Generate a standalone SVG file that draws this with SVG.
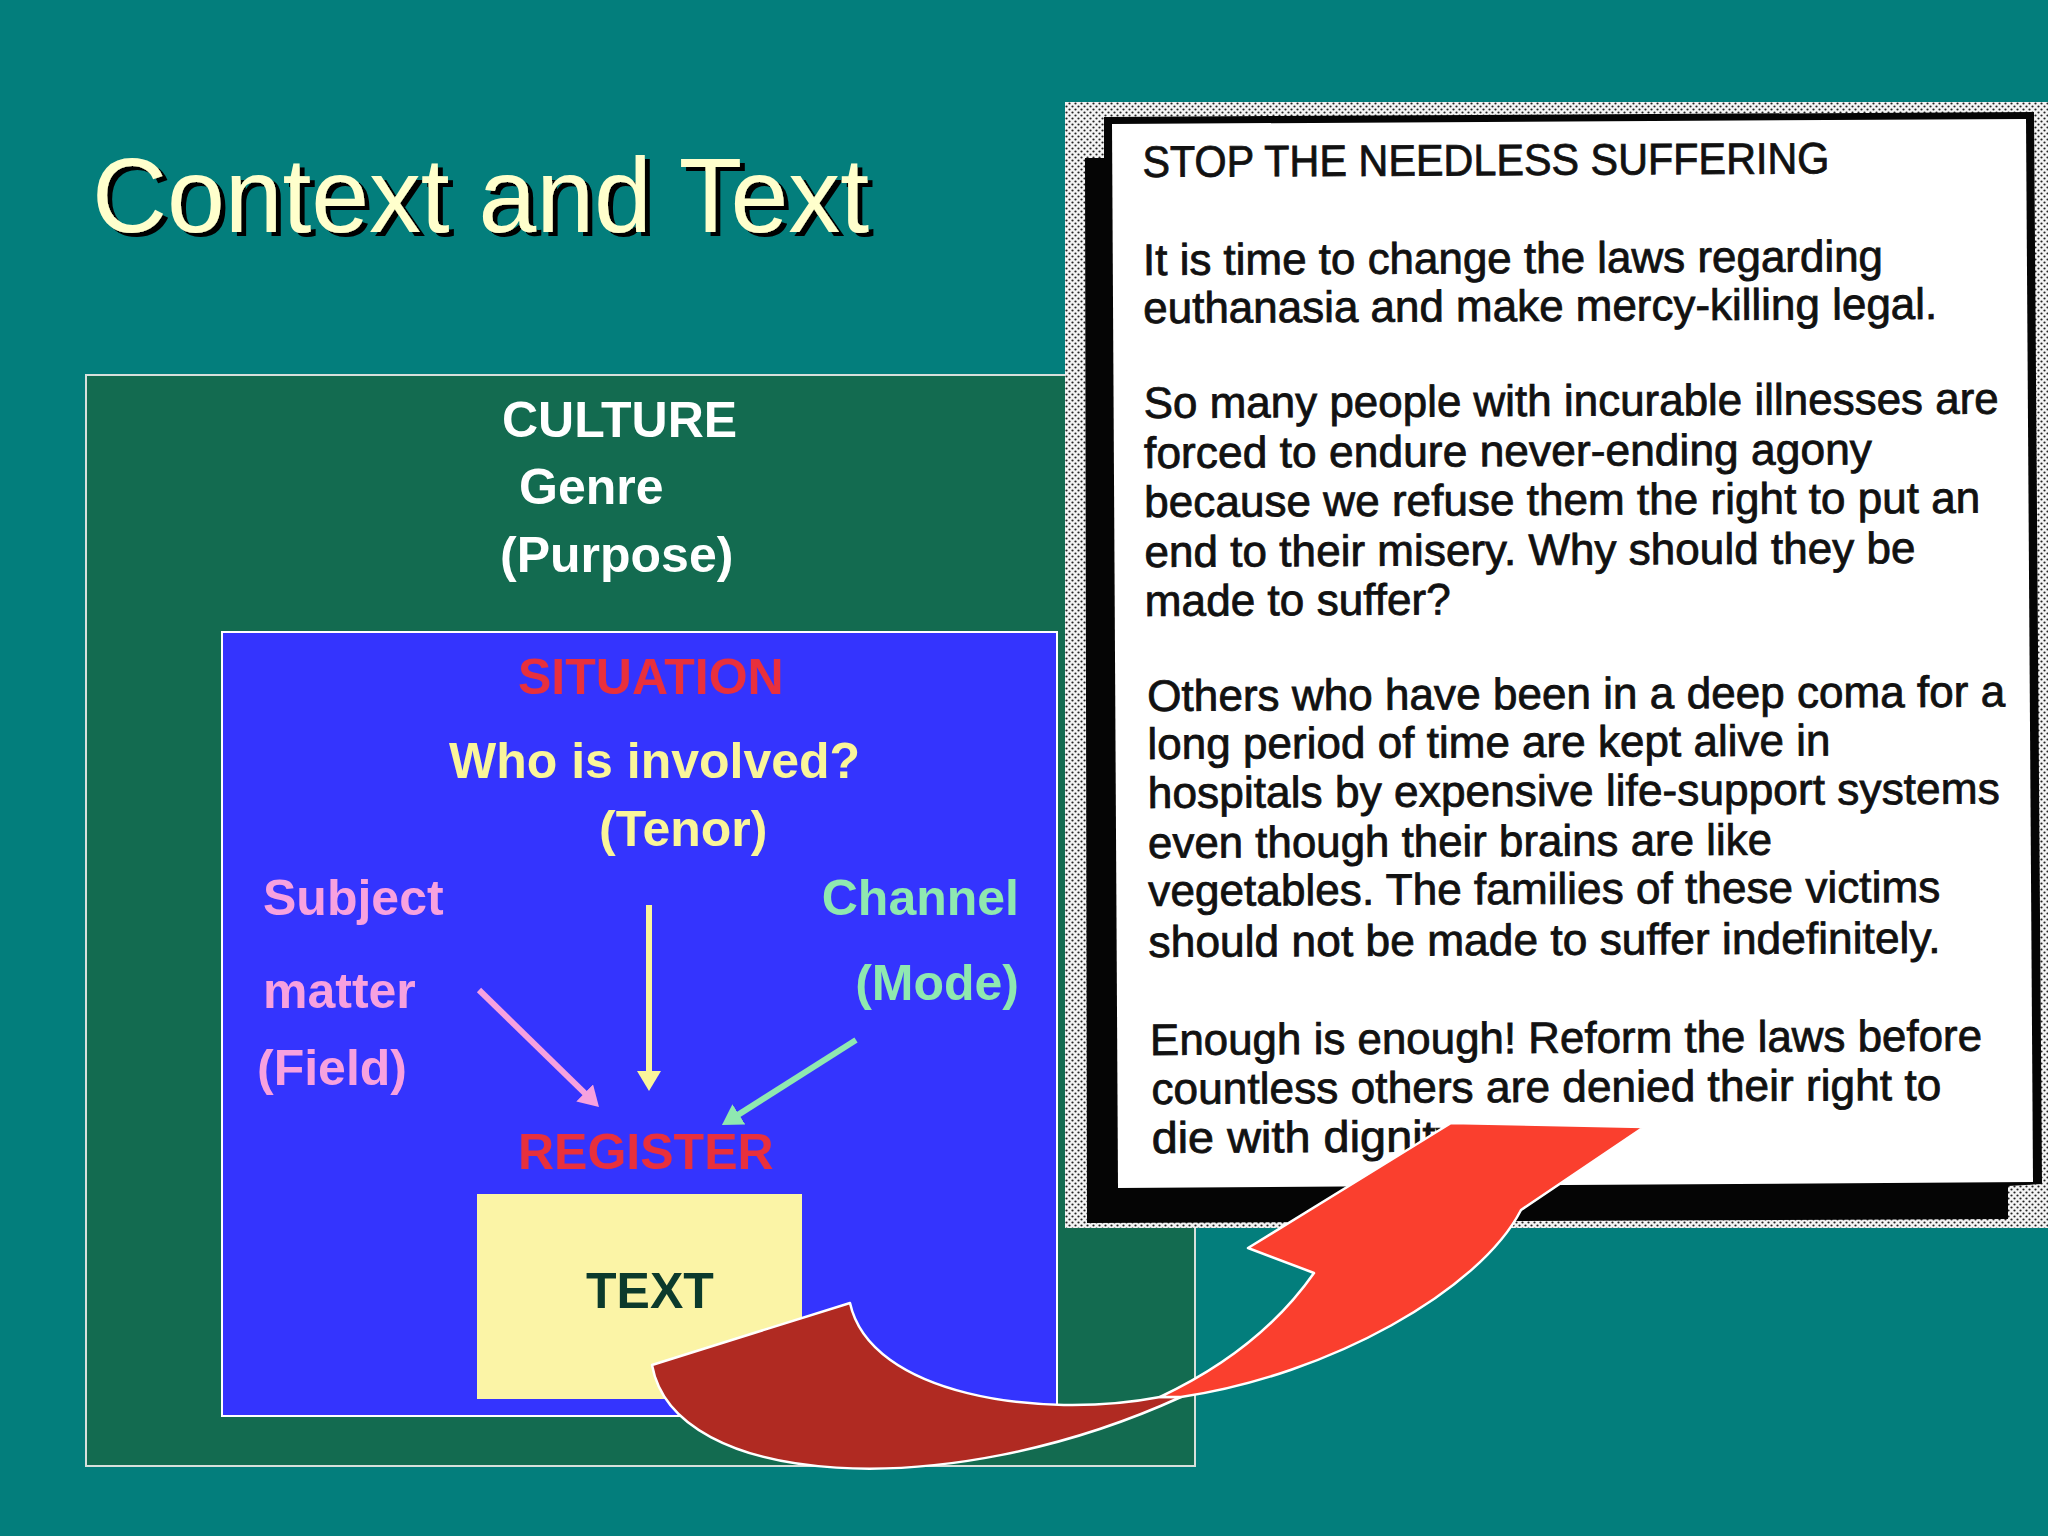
<svg xmlns="http://www.w3.org/2000/svg" width="2048" height="1536" viewBox="0 0 2048 1536">
<defs>
<style>
.lbl{font-family:"Liberation Sans",Arial,sans-serif;font-weight:bold;font-size:50px}
.w{fill:#ffffff}.red{fill:#E8303C}.yel{fill:#FAF59A}.pink{fill:#F7A1DF}.grn{fill:#8FE8B0}
.clip{font-family:"Liberation Sans",Arial,sans-serif;font-size:44px;fill:#111;stroke:#111;stroke-width:0.8}
.conn{fill:none;stroke-width:6}
</style>
<filter id="shadow" x="-5%" y="-20%" width="115%" height="150%">
<feOffset in="SourceAlpha" dx="5" dy="4" result="off"/>
<feMerge><feMergeNode in="off"/><feMergeNode in="SourceGraphic"/></feMerge>
</filter>
<pattern id="dots" width="6" height="6" patternUnits="userSpaceOnUse">
<rect width="6" height="6" fill="#f4f4f4"/>
<circle cx="1.5" cy="1.5" r="1.1" fill="#222"/>
<circle cx="4.5" cy="4.5" r="1.1" fill="#222"/>
</pattern>
<marker id="ahPink" viewBox="0 0 20 24" refX="8" refY="12" markerWidth="20" markerHeight="24" markerUnits="userSpaceOnUse" orient="auto"><path d="M0,0 L20,12 L0,24 Z" fill="#F7A1DF"/></marker>
<marker id="ahYel" viewBox="0 0 20 24" refX="8" refY="12" markerWidth="20" markerHeight="24" markerUnits="userSpaceOnUse" orient="auto"><path d="M0,0 L20,12 L0,24 Z" fill="#FAF59A"/></marker>
<marker id="ahGrn" viewBox="0 0 20 24" refX="8" refY="12" markerWidth="20" markerHeight="24" markerUnits="userSpaceOnUse" orient="auto"><path d="M0,0 L20,12 L0,24 Z" fill="#8FE8B0"/></marker>
</defs>
<rect width="2048" height="1536" fill="#037E7C"/>
<g id="title">
<text x="92" y="232" font-family="Liberation Sans, Arial, sans-serif" font-size="106" fill="#FFFFCC" textLength="777" lengthAdjust="spacingAndGlyphs" filter="url(#shadow)">Context and Text</text>
</g>
<g id="culture">
<rect x="86" y="375" width="1109" height="1091" fill="#136B50" stroke="#d8e0dc" stroke-width="2"/>
<text class="lbl w" x="502" y="437">CULTURE</text>
<text class="lbl w" x="519" y="504">Genre</text>
<text class="lbl w" x="500" y="572">(Purpose)</text>
</g>
<g id="situation">
<rect x="222" y="632" width="835" height="784" fill="#3434FE" stroke="#ffffff" stroke-width="2"/>
<text class="lbl red" x="518" y="694">SITUATION</text>
</g>
<g id="tenor">
<text class="lbl yel" x="449" y="778">Who is involved?</text>
<text class="lbl yel" x="599" y="846">(Tenor)</text>
</g>
<g id="field">
<text class="lbl pink" x="263" y="915">Subject</text>
<text class="lbl pink" x="263" y="1008">matter</text>
<text class="lbl pink" x="257" y="1085">(Field)</text>
</g>
<g id="mode">
<text class="lbl grn" x="1019" y="915" text-anchor="end">Channel</text>
<text class="lbl grn" x="1019" y="1000" text-anchor="end">(Mode)</text>
</g>
<g id="register">
<text class="lbl red" x="518" y="1169">REGISTER</text>
</g>
<g id="text-box">
<rect x="477" y="1194" width="325" height="205" fill="#FBF4A6"/>
<text class="lbl" x="586" y="1308" fill="#0B3A2C">TEXT</text>
</g>
<g id="connectors">
<line class="conn" x1="479" y1="990" x2="590.4" y2="1098.6" stroke="#F7A1DF" marker-end="url(#ahPink)"/>
<line class="conn" x1="649" y1="905" x2="649" y2="1079" stroke="#FAF59A" marker-end="url(#ahYel)"/>
<line class="conn" x1="856" y1="1040" x2="732.1" y2="1118.6" stroke="#8FE8B0" marker-end="url(#ahGrn)"/>
</g>
<g id="clipping">
<rect x="1065" y="102" width="983" height="1126" fill="url(#dots)"/>
<polygon points="1104,117 2034,112 2042,1184 2008,1186 2008,1219 1087,1223 1085,158 1104,158" fill="#050505"/>
<polygon points="1112,124 2026,119 2033,1182 1118,1188" fill="#ffffff"/>
<g transform="rotate(-0.3 1145 650)">
<text class="clip" x="1145" y="177" font-size="42" textLength="687" lengthAdjust="spacingAndGlyphs">STOP THE NEEDLESS SUFFERING</text>
<text class="clip" x="1145" y="275" textLength="740" lengthAdjust="spacingAndGlyphs">It is time to change the laws regarding</text>
<text class="clip" x="1145" y="323" textLength="794" lengthAdjust="spacingAndGlyphs">euthanasia and make mercy-killing legal.</text>
<text class="clip" x="1145" y="418" textLength="855" lengthAdjust="spacingAndGlyphs">So many people with incurable illnesses are</text>
<text class="clip" x="1145" y="468" textLength="728" lengthAdjust="spacingAndGlyphs">forced to endure never-ending agony</text>
<text class="clip" x="1145" y="517" textLength="836" lengthAdjust="spacingAndGlyphs">because we refuse them the right to put an</text>
<text class="clip" x="1145" y="567" textLength="771" lengthAdjust="spacingAndGlyphs">end to their misery. Why should they be</text>
<text class="clip" x="1145" y="616" textLength="306" lengthAdjust="spacingAndGlyphs">made to suffer?</text>
<text class="clip" x="1147" y="711" textLength="858" lengthAdjust="spacingAndGlyphs">Others who have been in a deep coma for a</text>
<text class="clip" x="1147" y="759" textLength="683" lengthAdjust="spacingAndGlyphs">long period of time are kept alive in</text>
<text class="clip" x="1147" y="808" textLength="852" lengthAdjust="spacingAndGlyphs">hospitals by expensive life-support systems</text>
<text class="clip" x="1147" y="858" textLength="624" lengthAdjust="spacingAndGlyphs">even though their brains are like</text>
<text class="clip" x="1147" y="906" textLength="792" lengthAdjust="spacingAndGlyphs">vegetables. The families of these victims</text>
<text class="clip" x="1147" y="957" textLength="792" lengthAdjust="spacingAndGlyphs">should not be made to suffer indefinitely.</text>
<text class="clip" x="1148" y="1055" textLength="832" lengthAdjust="spacingAndGlyphs">Enough is enough! Reform the laws before</text>
<text class="clip" x="1149" y="1104" textLength="790" lengthAdjust="spacingAndGlyphs">countless others are denied their right to</text>
<text class="clip" x="1149" y="1153" textLength="317" lengthAdjust="spacingAndGlyphs">die with dignity.</text>
</g>
</g>
<g id="big-arrow" stroke="#ffffff" stroke-width="2.5" stroke-linejoin="round">
<path d="M652,1365 L850,1303 C870,1395 1040,1420 1160,1397 L1181,1397 C945,1505 674,1488 652,1365 Z" fill="#B02A22"/>
<path d="M1160,1397 Q1260,1350 1314,1273 L1248,1248 L1451,1123 L1644,1127 L1521,1210 C1480,1290 1330,1375 1181,1397 Z" fill="#FA3F2E"/>
</g>
</svg>
